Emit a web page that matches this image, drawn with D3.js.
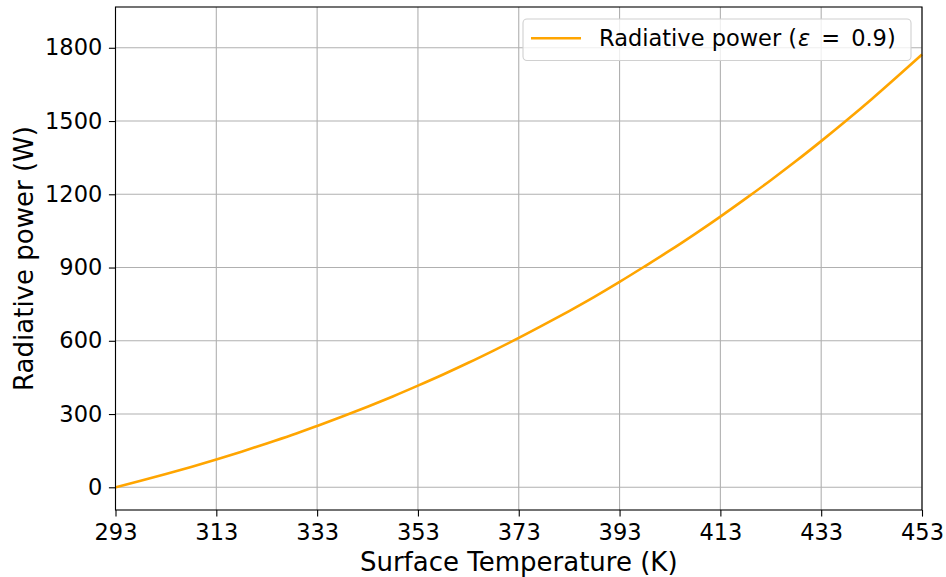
<!DOCTYPE html>
<html><head><meta charset="utf-8">
<script src="https://cdn.jsdelivr.net/npm/d3@7"></script>
<style>body{margin:0;background:#fff}svg{display:block;font-family:"DejaVu Sans",sans-serif}</style>
</head><body><svg id="c" width="946" height="577"></svg>
<script>
const temperatures = [293,298,303,308,313,318,323,328,333,338,343,348,353,358,363,368,373,378,383,388,393,398,403,408,413,418,423,428,433,438,443,448,453];
const power = [0,26.5,54,83,113.7,146,179.3,214,251.4,290,330.2,372,416.3,462,509.9,560,611.7,666,721.9,780,841.2,905,969.9,1038,1108.6,1182,1257.6,1336,1417.7,1502,1589.2,1680,1772.8];
const xTicks = [293,313,333,353,373,393,413,433,453];
const yTicks = [0,300,600,900,1200,1500,1800];
const seriesLabel = ["Radiative power (", "\u03b5", "=", "0.9)"];
const xLabel = "Surface Temperature (K)";
const yLabel = "Radiative power (W)";

const svg = d3.select("#c");
const L=115.5, R=922, T=7, B=510;
const x = d3.scaleLinear().domain([293,453]).range([L,R]);
const y = d3.scaleLinear().domain([-93,1967]).range([B,T]);

// grid
svg.append("g").selectAll("line").data(xTicks).join("line")
  .attr("x1",d=>x(d)).attr("x2",d=>x(d)).attr("y1",T).attr("y2",B)
  .attr("stroke","#b0b0b0").attr("stroke-width",1.1);
svg.append("g").selectAll("line").data(yTicks).join("line")
  .attr("x1",L).attr("x2",R).attr("y1",d=>y(d)).attr("y2",d=>y(d))
  .attr("stroke","#b0b0b0").attr("stroke-width",1.1);

// line
svg.append("path").datum(temperatures.map((t,i)=>[t,power[i]]))
  .attr("fill","none").attr("stroke","#ffa500").attr("stroke-width",2.6)
  .attr("d",d3.line().x(d=>x(d[0])).y(d=>y(d[1])).curve(d3.curveMonotoneX));

// axes
const xa = svg.append("g").attr("transform",`translate(0,${B})`)
  .call(d3.axisBottom(x).tickValues(xTicks).tickFormat(d3.format("d")).tickSize(6.6).tickPadding(6.6));
const ya = svg.append("g").attr("transform",`translate(${L},0)`)
  .call(d3.axisLeft(y).tickValues(yTicks).tickFormat(d3.format("d")).tickSize(6.6).tickPadding(6.6));
[xa,ya].forEach(a=>{a.select(".domain").remove();
  a.selectAll("text").attr("font-size",22.5).attr("fill","#000").attr("font-family","DejaVu Sans");
  a.selectAll("line").attr("stroke","#000").attr("stroke-width",1.1);});
xa.selectAll("text").attr("dy","0.76em");

svg.append("rect").attr("x",L).attr("y",T).attr("width",R-L).attr("height",B-T)
  .attr("fill","none").attr("stroke","#000").attr("stroke-width",1.1);

// labels
svg.append("text").attr("x",(L+R)/2).attr("y",571).attr("text-anchor","middle")
  .attr("font-size",26).text(xLabel);
svg.append("text").attr("transform",`translate(33,${(T+B)/2}) rotate(-90)`).attr("text-anchor","middle")
  .attr("font-size",26).text(yLabel);

// legend
const lg = svg.append("g");
lg.append("rect").attr("x",523).attr("y",19).attr("width",388).attr("height",41.5).attr("rx",4)
  .attr("fill","#fff").attr("fill-opacity",0.8).attr("stroke","#d0d0d0").attr("stroke-width",1.1);
lg.append("line").attr("x1",531).attr("x2",581).attr("y1",38.3).attr("y2",38.3)
  .attr("stroke","#ffa500").attr("stroke-width",2.6);
const lt = lg.append("text").attr("x",599).attr("y",46).attr("font-size",22.5);
lt.append("tspan").text(seriesLabel[0]);
lt.append("tspan").attr("font-style","italic").attr("dx",1).text(seriesLabel[1]);
lt.append("tspan").attr("dx",11).text(seriesLabel[2]);
lt.append("tspan").attr("dx",11).text(seriesLabel[3]);
</script></body></html>
